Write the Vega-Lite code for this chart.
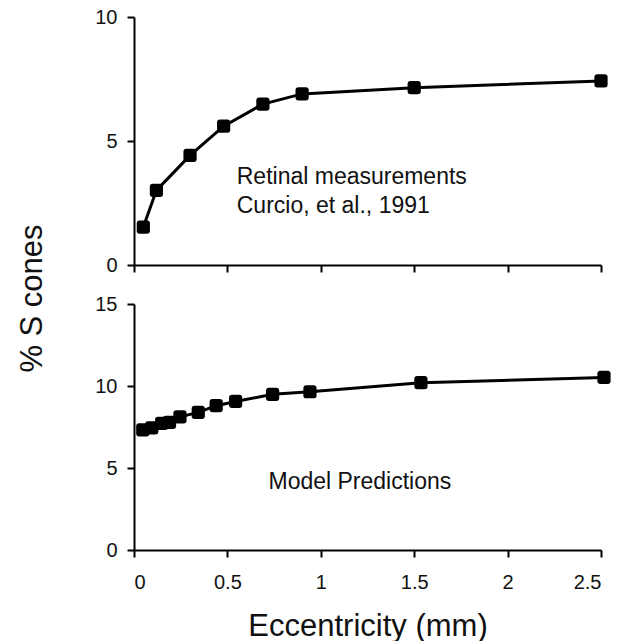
{
  "$schema": "https://vega.github.io/schema/vega-lite/v6.json",
  "background": "white",
  "padding": {"left": 15, "top": 7, "right": 2, "bottom": 0},
  "spacing": 39,
  "bounds": "flush",
  "config": {
    "view": {"stroke": null},
    "font": "Liberation Sans",
    "axis": {
      "grid": false,
      "domainColor": "black",
      "domainWidth": 2,
      "tickColor": "black",
      "tickWidth": 2,
      "tickSize": 7,
      "labelFont": "Liberation Sans",
      "labelFontSize": 20,
      "labelColor": "#111",
      "titleFont": "Liberation Sans",
      "titleFontWeight": "normal",
      "titleFontSize": 31,
      "titleColor": "#111"
    }
  },
  "vconcat": [
    {
      "width": 467,
      "height": 248,
      "data": {"values": [
        {"ecc": 0.05, "pct": 1.53},
        {"ecc": 0.12, "pct": 3.01},
        {"ecc": 0.30, "pct": 4.42},
        {"ecc": 0.48, "pct": 5.6},
        {"ecc": 0.69, "pct": 6.49},
        {"ecc": 0.90, "pct": 6.9},
        {"ecc": 1.50, "pct": 7.15},
        {"ecc": 2.50, "pct": 7.42}
      ]},
      "layer": [
        {
          "mark": {"type": "line", "color": "black", "strokeWidth": 3, "clip": false},
          "encoding": {
            "x": {"field": "ecc", "type": "quantitative", "scale": {"domain": [0, 2.5], "nice": false},
              "axis": {"labels": false, "title": null, "values": [0, 0.5, 1, 1.5, 2, 2.5]}},
            "y": {"field": "pct", "type": "quantitative", "scale": {"domain": [0, 10], "nice": false},
              "axis": {"title": null, "values": [0, 5, 10], "labelPadding": 10}}
          }
        },
        {
          "mark": {"type": "point", "filled": true, "opacity": 1, "color": "black", "size": 175, "clip": false,
            "shape": "M-1,-0.55 Q-1,-1 -0.55,-1 L0.55,-1 Q1,-1 1,-0.55 L1,0.55 Q1,1 0.55,1 L-0.55,1 Q-1,1 -1,0.55 Z"},
          "encoding": {
            "x": {"field": "ecc", "type": "quantitative"},
            "y": {"field": "pct", "type": "quantitative"}
          }
        },
        {
          "data": {"values": [
            {"ecc": 0.55, "pct": 3.55, "label": "Retinal measurements"},
            {"ecc": 0.55, "pct": 2.38, "label": "Curcio, et al., 1991"}
          ]},
          "mark": {"type": "text", "align": "left", "baseline": "middle", "fontSize": 23, "color": "#111", "font": "Liberation Sans"},
          "encoding": {
            "x": {"field": "ecc", "type": "quantitative"},
            "y": {"field": "pct", "type": "quantitative"},
            "text": {"field": "label"}
          }
        }
      ]
    },
    {
      "width": 467,
      "height": 246,
      "data": {"values": [
        {"ecc": 0.047, "pct": 7.32},
        {"ecc": 0.095, "pct": 7.45},
        {"ecc": 0.148, "pct": 7.72},
        {"ecc": 0.19, "pct": 7.78},
        {"ecc": 0.246, "pct": 8.12},
        {"ecc": 0.344, "pct": 8.39},
        {"ecc": 0.44, "pct": 8.8},
        {"ecc": 0.544, "pct": 9.06},
        {"ecc": 0.742, "pct": 9.49},
        {"ecc": 0.942, "pct": 9.65},
        {"ecc": 1.536, "pct": 10.2},
        {"ecc": 2.516, "pct": 10.52}
      ]},
      "layer": [
        {
          "mark": {"type": "line", "color": "black", "strokeWidth": 3, "clip": false},
          "encoding": {
            "x": {"field": "ecc", "type": "quantitative", "scale": {"domain": [0, 2.5], "nice": false},
              "axis": {"title": "Eccentricity (mm)", "format": "~g", "values": [0, 0.5, 1, 1.5, 2, 2.5], "labelPadding": 15, "titlePadding": 19}},
            "y": {"field": "pct", "type": "quantitative", "scale": {"domain": [0, 15], "nice": false},
              "axis": {"title": "% S cones", "values": [0, 5, 10, 15], "labelPadding": 10,
                "titleX": -102, "titleY": -6, "titleAlign": "center", "titleBaseline": "middle", "titleAngle": -90}}
          }
        },
        {
          "mark": {"type": "point", "filled": true, "opacity": 1, "color": "black", "size": 175, "clip": false,
            "shape": "M-1,-0.55 Q-1,-1 -0.55,-1 L0.55,-1 Q1,-1 1,-0.55 L1,0.55 Q1,1 0.55,1 L-0.55,1 Q-1,1 -1,0.55 Z"},
          "encoding": {
            "x": {"field": "ecc", "type": "quantitative"},
            "y": {"field": "pct", "type": "quantitative"}
          }
        },
        {
          "data": {"values": [
            {"ecc": 0.72, "pct": 4.16, "label": "Model Predictions"}
          ]},
          "mark": {"type": "text", "align": "left", "baseline": "middle", "fontSize": 23, "color": "#111", "font": "Liberation Sans"},
          "encoding": {
            "x": {"field": "ecc", "type": "quantitative"},
            "y": {"field": "pct", "type": "quantitative"},
            "text": {"field": "label"}
          }
        }
      ]
    }
  ]
}
